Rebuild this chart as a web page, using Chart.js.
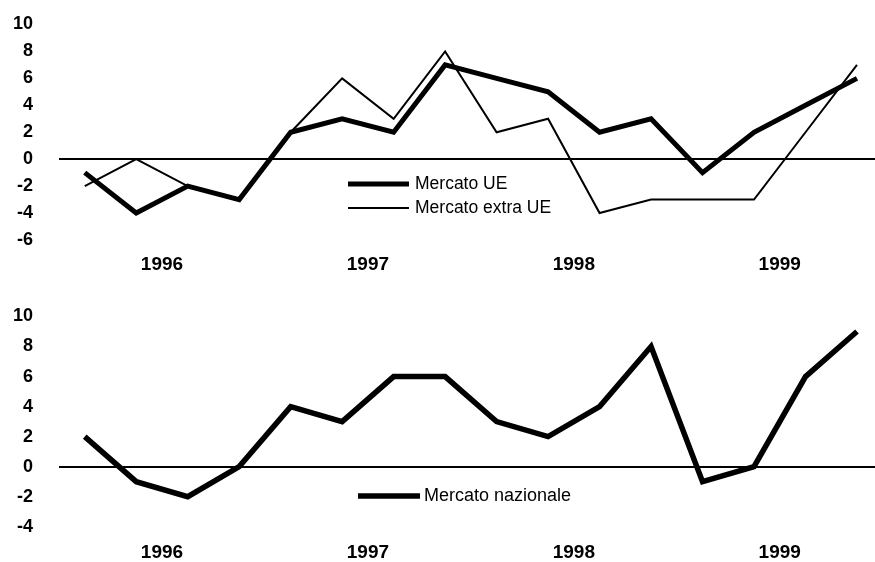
<!DOCTYPE html>
<html>
<head>
<meta charset="utf-8">
<script src="https://cdn.jsdelivr.net/npm/chart.js@4"></script>
<style>
  html, body { margin: 0; padding: 0; background: #fff; }
  canvas { position: absolute; left: 0; }
  #topChart { top: 0; }
  #bottomChart { top: 281px; }
</style>
</head>
<body>
<canvas id="topChart" width="875" height="281"></canvas>
<canvas id="bottomChart" width="875" height="281"></canvas>
<script>
// Data (quarterly, 1996-1999)
const years = ['1996', '1997', '1998', '1999'];
const quartersPerYear = 4;
const mercatoUE = [-1, -4, -2, -3, 2, 3, 2, 7, 6, 5, 2, 3, -1, 2, 4, 6];
const mercatoExtraUE = [-2, 0, -2, -3, 2, 6, 3, 8, 2, 3, -4, -3, -3, -3, 2, 7];
const mercatoNazionale = [2, -1, -2, 0, 4, 3, 6, 6, 3, 2, 4, 8, -1, 0, 6, 9];
const topTicks = [-6, -4, -2, 0, 2, 4, 6, 8, 10];
const bottomTicks = [-4, -2, 0, 2, 4, 6, 8, 10];

const FONT = '"Liberation Sans", Arial, sans-serif';

const toPoints = arr => arr.map((y, i) => ({ x: i, y: y }));

// Legend drawn inside the plot, line sample + label
const lineLegend = {
    id: 'lineLegend',
    afterDraw(chart, args, opts) {
        const ctx = chart.ctx;
        ctx.save();
        chart.data.datasets.forEach((ds, i) => {
            const y = opts.y + i * opts.rowGap;
            ctx.beginPath();
            ctx.strokeStyle = ds.borderColor;
            ctx.lineWidth = ds.borderWidth;
            ctx.moveTo(opts.x, y);
            ctx.lineTo(opts.x + opts.sampleWidth, y);
            ctx.stroke();
            ctx.fillStyle = '#000';
            ctx.font = opts.font;
            ctx.textBaseline = 'middle';
            ctx.fillText(ds.label, opts.x + opts.sampleWidth + opts.gap, y);
        });
        ctx.restore();
    }
};

function makeScales(tickValues, xHeight, xPad) {
    return {
        x: {
            type: 'linear',
            min: -0.5,
            max: 15.35,
            afterBuildTicks: s => {
                s.ticks = years.map((y, i) => ({ value: i * quartersPerYear + (quartersPerYear - 1) / 2 }));
            },
            afterFit: s => { s.height = xHeight; },
            ticks: {
                callback: (v, i) => years[i],
                autoSkip: false,
                maxRotation: 0,
                color: '#000',
                padding: xPad,
                font: { family: FONT, size: 19, weight: 'bold' }
            },
            grid: { display: false, drawTicks: false },
            border: { display: false }
        },
        y: {
            min: tickValues[0],
            max: tickValues[tickValues.length - 1],
            afterBuildTicks: s => { s.ticks = tickValues.map(v => ({ value: v })); },
            afterFit: s => {
                s.width = 59;
                s.paddingTop = 0;
                s.paddingBottom = 0;
            },
            ticks: {
                color: '#000',
                padding: 26,
                font: { family: FONT, size: 18, weight: 'bold' }
            },
            grid: {
                drawTicks: false,
                color: c => c.tick && c.tick.value === 0 ? '#000' : 'rgba(0,0,0,0)',
                lineWidth: 2
            },
            border: { display: false }
        }
    };
}

const lineStyle = { pointRadius: 0, tension: 0, borderJoinStyle: 'miter', borderCapStyle: 'butt', fill: false };

const topChart = new Chart(document.getElementById('topChart').getContext('2d'), {
    type: 'line',
    data: {
        datasets: [{
            label: 'Mercato UE',
            data: toPoints(mercatoUE),
            borderColor: '#000',
            borderWidth: 5,
            ...lineStyle
        }, {
            label: 'Mercato extra UE',
            data: toPoints(mercatoExtraUE),
            borderColor: '#000',
            borderWidth: 2,
            ...lineStyle
        }]
    },
    options: {
        responsive: false,
        animation: false,
        layout: { padding: { top: 24.5, left: 0, right: 0, bottom: 0 } },
        plugins: {
            legend: { display: false },
            tooltip: { enabled: false },
            lineLegend: { x: 348, y: 184, rowGap: 24, sampleWidth: 61, gap: 6, font: '17.5px ' + FONT }
        },
        scales: makeScales(topTicks, 41, 13)
    },
    plugins: [lineLegend]
});

const bottomChart = new Chart(document.getElementById('bottomChart').getContext('2d'), {
    type: 'line',
    data: {
        datasets: [{
            label: 'Mercato nazionale',
            data: toPoints(mercatoNazionale),
            borderColor: '#000',
            borderWidth: 5.5,
            ...lineStyle
        }]
    },
    options: {
        responsive: false,
        animation: false,
        layout: { padding: { top: 35.5, left: 0, right: 0, bottom: 0 } },
        plugins: {
            legend: { display: false },
            tooltip: { enabled: false },
            lineLegend: { x: 358, y: 215, rowGap: 24, sampleWidth: 62, gap: 4, font: '18px ' + FONT }
        },
        scales: makeScales(bottomTicks, 35.3, 15)
    },
    plugins: [lineLegend]
});
</script>
</body>
</html>
